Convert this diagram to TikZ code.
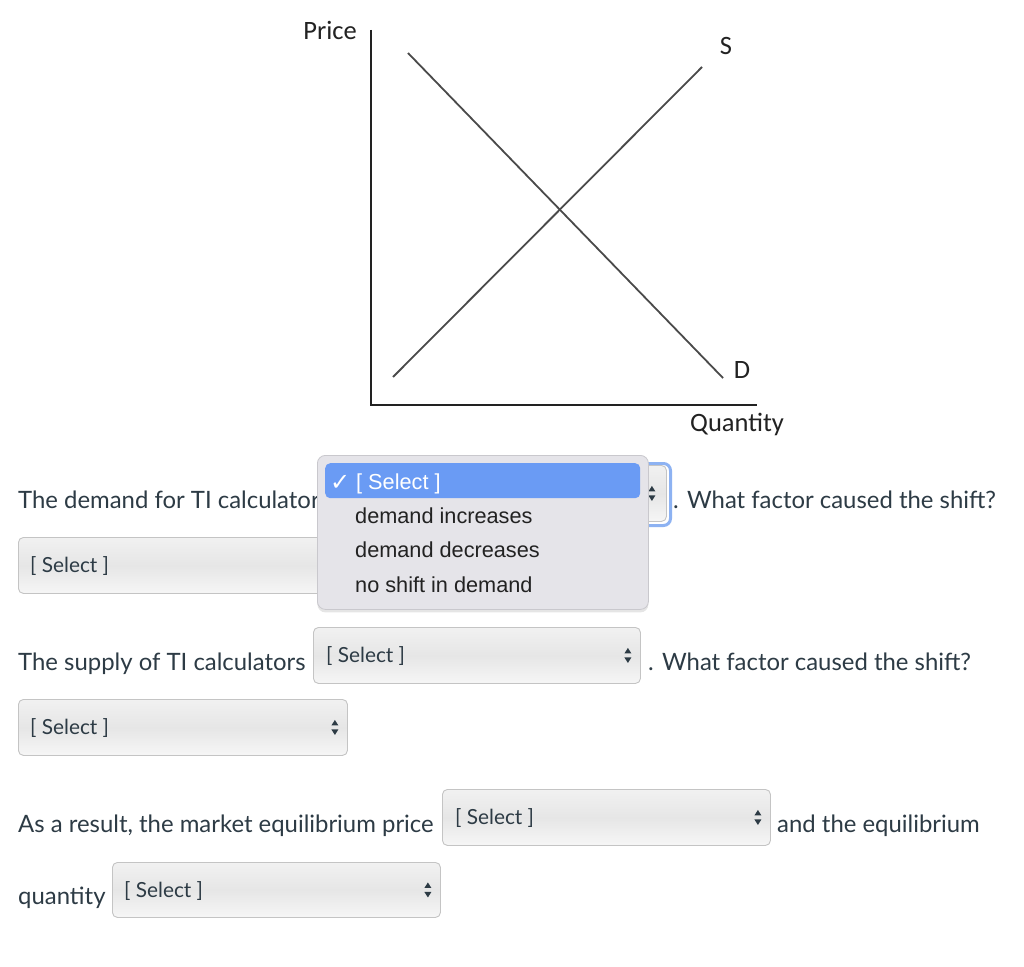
\documentclass[tikz,border=0pt]{standalone}
\usepackage{fontspec}
\setmainfont{Lato}
\newfontfamily\graphfont{Carlito}
\newfontfamily\popfont{Liberation Sans}
\newfontfamily\symfont{DejaVu Sans}
\usetikzlibrary{shadows}
\definecolor{txt}{HTML}{2D3B45}
\definecolor{gtxt}{HTML}{222222}
\definecolor{gline}{HTML}{4A4A4A}
\definecolor{boxborder}{HTML}{C4C4C4}
\definecolor{boxtop}{HTML}{F1F1F1}
\definecolor{boxmid}{HTML}{E6E6E6}
\definecolor{boxbot}{HTML}{F6F6F6}
\definecolor{popfill}{HTML}{E5E4E9}
\definecolor{popborder}{HTML}{C9C8CD}
\definecolor{hilite}{HTML}{6A9BF4}
\definecolor{focusring}{HTML}{8DB2F2}
\definecolor{poptxt}{HTML}{222222}
\tikzset{
  axisline/.style={draw=gtxt, line width=1.8pt},
  curveline/.style={draw=gline, line width=1.8pt},
  glabel/.style={font=\graphfont\fontsize{26.5}{30}\selectfont, text=gtxt, inner sep=0pt},
  body/.style={font=\fontsize{23.9}{28}\selectfont, text=txt, inner sep=0pt, anchor=base west},
  selbox/.style={draw=boxborder, line width=0.9pt, rounded corners=5pt,
    top color=boxtop, bottom color=boxbot, middle color=boxmid,
    anchor=north west, inner sep=0pt},
  seltext/.style={font=\fontsize{20.8}{24}\selectfont, text=txt, inner sep=0pt, anchor=base west},
  popbox/.style={fill=popfill, draw=popborder, line width=0.8pt, rounded corners=8pt,
    anchor=north west, inner sep=0pt,
    drop shadow={shadow xshift=0pt, shadow yshift=-3pt, opacity=0.10, fill=black}},
  hibar/.style={fill=hilite, rounded corners=5pt, anchor=north west, inner sep=0pt},
  popitem/.style={font=\popfont\fontsize{21.7}{25}\selectfont, text=poptxt, inner sep=0pt, anchor=base west},
  updown/.pic={
    \fill[txt] (-3.5,-2) -- (3.5,-2) -- (0,-7.5) -- cycle;
    \fill[txt] (-3.5,2) -- (3.5,2) -- (0,7.5) -- cycle;
  }
}
\begin{document}
\begin{tikzpicture}[x=1pt,y=-1pt]
\useasboundingbox[fill=white] (0,0) rectangle (1024,966);

% ---------- graph ----------
\coordinate (ytop) at (371,30);
\coordinate (O) at (371,405);
\coordinate (xend) at (757,405);
\draw[axisline] (ytop) -- (O) -- (xend);
\coordinate (d1) at (408,53);
\coordinate (d2) at (723,378);
\coordinate (s1) at (393,377);
\coordinate (s2) at (702,67);
\draw[curveline] (d1) -- (d2);
\draw[curveline] (s1) -- (s2);
\node[glabel, anchor=base east] (price) at (357,40) {Price};
\node[glabel] (slab) at (726,46) {S};
\node[glabel] (dlab) at (742,370) {D};
\node[glabel, anchor=base west] (qty) at (690,431) {Quantity};

% ---------- texts ----------
\node[body] (t1) at (18,508) {The demand for TI calculators};
\node[body] (t1b) at (673,508) {. What factor caused the shift?};
\node[body] (t2) at (18,670) {The supply of TI calculators};
\node[body] (t2b) at (648,670) {. What factor caused the shift?};
\node[body] (t3) at (18,832) {As a result, the market equilibrium price};
\node[body] (t3b) at (777,832) {and the equilibrium};
\node[body] (t4) at (18,904) {quantity};

% ---------- dropdowns ----------
% row 2 (partly hidden)
\node[selbox, minimum width=329pt, minimum height=56pt] (dd2) at (18,537) {};
\node[seltext] (dd2t) at ([xshift=12pt, yshift=-7.5pt]dd2.west) {[ Select ]};

% demand dropdown with focus ring (mostly hidden)
\node[draw=focusring, line width=3pt, rounded corners=7pt, anchor=north west,
      minimum width=334pt, minimum height=62pt, inner sep=0pt] (ddring) at (335,462) {};
\node[selbox, minimum width=328pt, minimum height=56pt] (dd1) at (338,465) {};
\pic at ([xshift=-15pt]dd1.east) {updown};

% supply dropdown
\node[selbox, minimum width=327pt, minimum height=56pt] (dd3) at (313,627) {};
\node[seltext] (dd3t) at ([xshift=13pt, yshift=-7.5pt]dd3.west) {[ Select ]};
\pic at ([xshift=-13pt]dd3.east) {updown};

% factor 2 dropdown
\node[selbox, minimum width=329pt, minimum height=56pt] (dd4) at (18,699) {};
\node[seltext] (dd4t) at ([xshift=12pt, yshift=-7.5pt]dd4.west) {[ Select ]};
\pic at ([xshift=-13pt]dd4.east) {updown};

% price dropdown
\node[selbox, minimum width=328pt, minimum height=56pt] (dd5) at (442,789) {};
\node[seltext] (dd5t) at ([xshift=13pt, yshift=-7.5pt]dd5.west) {[ Select ]};
\pic at ([xshift=-13pt]dd5.east) {updown};

% quantity dropdown
\node[selbox, minimum width=328pt, minimum height=55pt] (dd6) at (112,862) {};
\node[seltext] (dd6t) at ([xshift=12pt, yshift=-7.5pt]dd6.west) {[ Select ]};
\pic at ([xshift=-13pt]dd6.east) {updown};

% ---------- open popup ----------
\node[popbox, minimum width=331pt, minimum height=154pt] (pop) at (317,455) {};
\node[hibar, minimum width=315pt, minimum height=35pt] (hb) at (325,463) {};
\node[font=\symfont\bfseries\fontsize{24}{26}\selectfont, text=white, inner sep=0pt, anchor=base west] (chk) at (330,490) {✓};
\node[popitem, text=white] (i0) at (356,489) {[ Select ]};
\node[popitem] (i1) at (355,523) {demand increases};
\node[popitem] (i2) at (355,557) {demand decreases};
\node[popitem] (i3) at (355,592) {no shift in demand};
\end{tikzpicture}
\end{document}
